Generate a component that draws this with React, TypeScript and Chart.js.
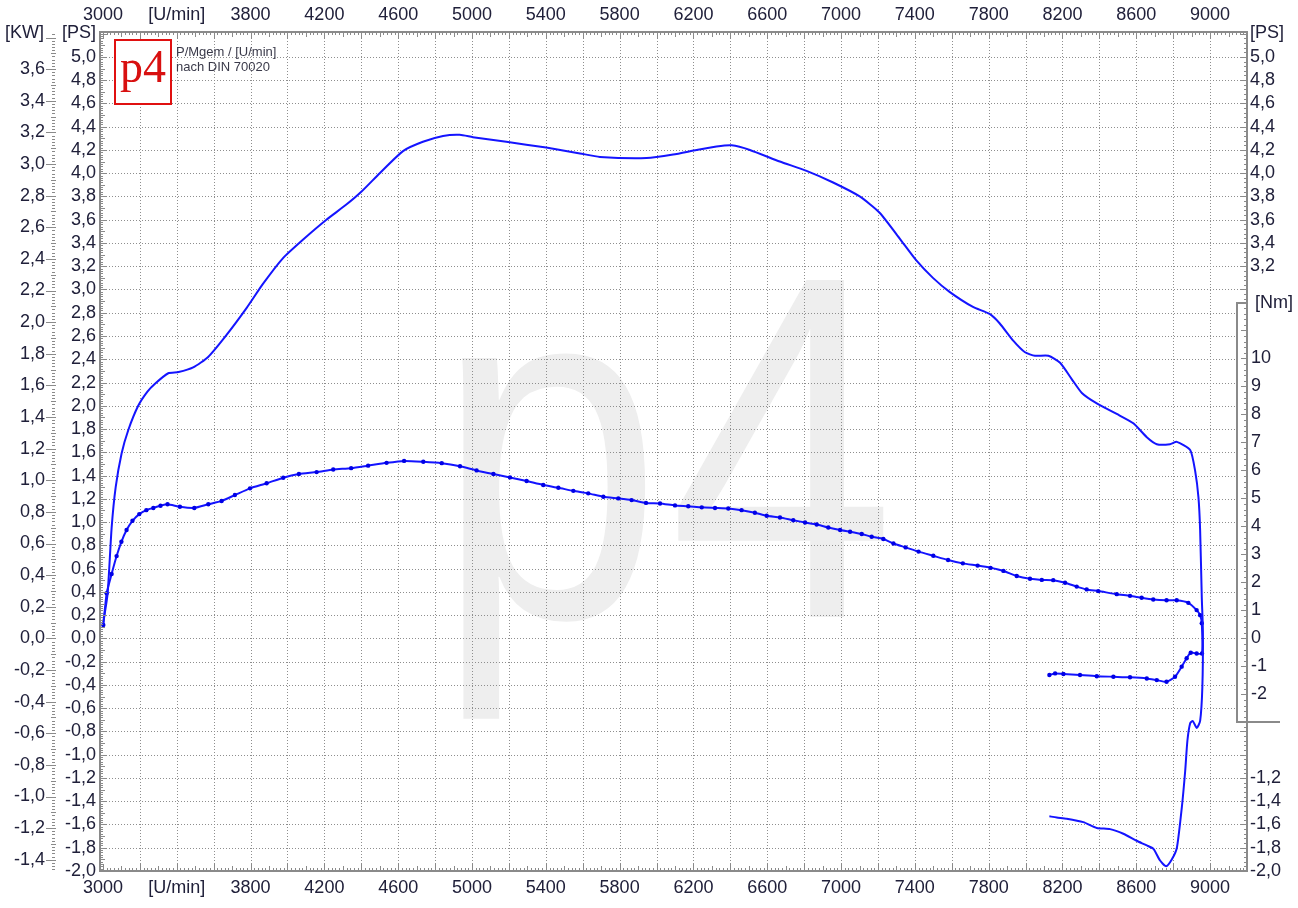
import React, { useEffect, useRef } from "react";
import { Chart, registerables } from "chart.js";

Chart.register(...registerables);

// ---------------- data ----------------
// Power curve, run-up followed by coast-down (loss power), in PS
const powerRpm = [
  3000, 3025, 3047, 3069, 3101, 3137, 3191, 3240, 3282, 3354, 3410, 3489, 3570, 3670, 3778, 3868, 3976, 4085,
  4211, 4319, 4400, 4500, 4626, 4734, 4843, 4933, 5005, 5186, 5402, 5585, 5693, 5946, 6090, 6217, 6325, 6407,
  6506, 6668, 6813, 6957, 7101, 7209, 7317, 7408, 7498, 7588, 7715, 7805, 7859, 7933, 7997, 8051, 8124, 8187,
  8250, 8305, 8386, 8494, 8584, 8657, 8711, 8783, 8820, 8892, 8919, 8937, 8946, 8955, 8961,
  8958, 8946, 8928, 8906, 8892, 8877, 8865, 8847, 8820, 8793, 8762, 8729, 8693, 8657, 8602, 8530, 8458, 8386,
  8313, 8223, 8169, 8129,
];
const powerPs = [
  0.12, 0.38, 0.95, 1.3, 1.59, 1.79, 2.0, 2.12, 2.19, 2.28, 2.29, 2.33, 2.42, 2.61, 2.84, 3.05, 3.27, 3.43,
  3.6, 3.73, 3.84, 4.0, 4.19, 4.27, 4.32, 4.33, 4.31, 4.27, 4.22, 4.17, 4.14, 4.13, 4.16, 4.2, 4.23, 4.24,
  4.2, 4.1, 4.02, 3.92, 3.8, 3.66, 3.44, 3.25, 3.1, 2.98, 2.85, 2.79, 2.71, 2.56, 2.46, 2.43, 2.43, 2.37,
  2.23, 2.11, 2.02, 1.93, 1.85, 1.73, 1.67, 1.67, 1.69, 1.62, 1.44, 1.21, 0.93, 0.35, 0.06,
  -0.42, -0.71, -0.77, -0.71, -0.73, -0.88, -1.14, -1.45, -1.8, -1.9, -1.96, -1.91, -1.81, -1.78, -1.74, -1.68,
  -1.64, -1.63, -1.58, -1.55, -1.54, -1.53,
];

// Torque curve, run-up followed by coast-down (loss torque), in Nm
const torqueRpm = [
  3002, 3020, 3047, 3074, 3100, 3128, 3160, 3197, 3235, 3273, 3312, 3350, 3417, 3495, 3571, 3643, 3715, 3797,
  3887, 3977, 4062, 4158, 4248, 4345, 4437, 4537, 4632, 4736, 4836, 4935, 5025, 5116, 5206, 5296, 5386, 5468,
  5549, 5630, 5712, 5793, 5865, 5943, 6019, 6100, 6172, 6245, 6317, 6389, 6461, 6533, 6597, 6669, 6741, 6805,
  6868, 6931, 6995, 7049, 7112, 7166, 7229, 7284, 7350, 7420, 7500, 7580, 7660, 7740, 7810, 7880, 7952, 8024,
  8088, 8150, 8214, 8277, 8331, 8394, 8494, 8566, 8629, 8692, 8764, 8819, 8882, 8927, 8946, 8955,
  8956, 8927, 8895, 8873, 8846, 8810, 8764, 8711, 8657, 8566, 8476, 8386, 8295, 8205, 8160, 8129,
];
const torqueNm = [
  0.48, 1.61, 2.3, 2.94, 3.45, 3.87, 4.2, 4.44, 4.58, 4.66, 4.74, 4.79, 4.7, 4.66, 4.79, 4.91, 5.12, 5.36,
  5.54, 5.74, 5.87, 5.94, 6.03, 6.08, 6.17, 6.27, 6.34, 6.31, 6.26, 6.15, 6.0, 5.87, 5.75, 5.62, 5.48, 5.38,
  5.27, 5.18, 5.06, 5.0, 4.94, 4.84, 4.82, 4.75, 4.72, 4.68, 4.66, 4.64, 4.58, 4.49, 4.38, 4.32, 4.22, 4.14,
  4.07, 3.96, 3.87, 3.81, 3.73, 3.63, 3.55, 3.39, 3.25, 3.1, 2.95, 2.8, 2.68, 2.6, 2.52, 2.41, 2.23, 2.13,
  2.09, 2.08, 1.99, 1.85, 1.75, 1.69, 1.58, 1.52, 1.45, 1.39, 1.36, 1.36, 1.27, 1.01, 0.83, 0.54,
  -0.54, -0.54, -0.51, -0.71, -1.01, -1.37, -1.55, -1.49, -1.43, -1.39, -1.37, -1.35, -1.31, -1.27, -1.25, -1.31,
];

// ---------------- axis ticks / labels ----------------
const rpmTickValues = [3000, 3400, 3800, 4200, 4600, 5000, 5400, 5800, 6200, 6600, 7000, 7400, 7800, 8200, 8600, 9000];
const rpmTickLabels = ["3000", "[U/min]", "3800", "4200", "4600", "5000", "5400", "5800", "6200", "6600", "7000", "7400", "7800", "8200", "8600", "9000"];
const psLeftLabels = [
  "-2,0", "-1,8", "-1,6", "-1,4", "-1,2", "-1,0", "-0,8", "-0,6", "-0,4", "-0,2", "0,0", "0,2", "0,4", "0,6", "0,8", "1,0", "1,2", "1,4",
  "1,6", "1,8", "2,0", "2,2", "2,4", "2,6", "2,8", "3,0", "3,2", "3,4", "3,6", "3,8", "4,0", "4,2", "4,4", "4,6", "4,8", "5,0",
];
const kwLabels = [
  "-1,4", "-1,2", "-1,0", "-0,8", "-0,6", "-0,4", "-0,2", "0,0", "0,2", "0,4", "0,6", "0,8", "1,0", "1,2", "1,4", "1,6", "1,8",
  "2,0", "2,2", "2,4", "2,6", "2,8", "3,0", "3,2", "3,4", "3,6",
];
const psRightUpperLabels = ["3,2", "3,4", "3,6", "3,8", "4,0", "4,2", "4,4", "4,6", "4,8", "5,0"];
const psRightLowerLabels = ["-2,0", "-1,8", "-1,6", "-1,4", "-1,2"];
const nmLabels = ["-2", "-1", "0", "1", "2", "3", "4", "5", "6", "7", "8", "9", "10"];
const noteLines = ["P/Mgem / [U/min]", "nach DIN 70020"];

// scale ranges
const X_MIN = 2984;
const X_MAX = 9200;
const PS_MIN = -2;
const PS_MAX = 5.214;
const KW_PER_PS = 0.7355;
const NM_PER_PS = 4.154;

const AXIS_GRAY = "#8a8a8a";
const TEXT = "#20203a";
const FONT = '18px "Liberation Sans", Arial, sans-serif';
const BLUE = "#1414ff";

const num = (s: string) => parseFloat(s.replace(",", "."));

function seg(ctx: CanvasRenderingContext2D, x1: number, y1: number, x2: number, y2: number) {
  ctx.beginPath();
  ctx.moveTo(x1, y1);
  ctx.lineTo(x2, y2);
  ctx.stroke();
}

const NM_BOX_TOP = 303;
const NM_BOX_BOTTOM = 722;
const NM_BOX_LEFT = 1237;
const NM_BOX_RIGHT = 1280;

const dynoPlugin = {
  id: "dyno",
  beforeDatasetsDraw(chart: any) {
    const { ctx, chartArea: ca, scales } = chart;
    const xs = scales.x;
    const ps = scales.ps;
    ctx.save();
    ctx.fillStyle = "#ffffff";
    ctx.fillRect(0, 0, chart.width, chart.height);

    // watermark
    ctx.save();
    ctx.beginPath();
    ctx.rect(ca.left, ca.top, ca.right - ca.left, ca.bottom - ca.top);
    ctx.clip();
    ctx.fillStyle = "#eeeeee";
    ctx.font = '490px "Liberation Sans", Arial, sans-serif';
    ctx.textAlign = "left";
    ctx.textBaseline = "alphabetic";
    ctx.save();
    ctx.translate(436, 617);
    ctx.scale(0.83, 1);
    ctx.fillText("p", 0, 0);
    ctx.restore();
    ctx.save();
    ctx.translate(669, 617);
    ctx.scale(0.83, 1);
    ctx.fillText("4", 0, 0);
    ctx.restore();

    // grid
    ctx.strokeStyle = "#8e8e8e";
    ctx.lineWidth = 1;
    ctx.setLineDash([1, 2]);
    for (let r = 3200; r < X_MAX; r += 200) {
      const px = Math.round(xs.getPixelForValue(r)) + 0.5;
      seg(ctx, px, ca.top, px, ca.bottom);
    }
    psLeftLabels.forEach((l) => {
      const v = num(l);
      if (v <= PS_MIN) return;
      const py = Math.round(ps.getPixelForValue(v)) + 0.5;
      seg(ctx, ca.left, py, ca.right, py);
    });
    ctx.restore();
    ctx.restore();
  },
  afterDatasetsDraw(chart: any) {
    const { ctx, chartArea: ca, scales } = chart;
    const xs = scales.x;
    const ps = scales.ps;
    const nm = scales.nm;
    const kw = scales.kw;
    ctx.save();

    // Nm box background
    ctx.fillStyle = "#ffffff";
    ctx.fillRect(NM_BOX_LEFT + 1, NM_BOX_TOP + 1, NM_BOX_RIGHT - NM_BOX_LEFT + 14, NM_BOX_BOTTOM - NM_BOX_TOP - 2);

    // frame
    ctx.strokeStyle = AXIS_GRAY;
    ctx.lineWidth = 2;
    ctx.strokeRect(ca.left, ca.top, ca.right - ca.left, ca.bottom - ca.top);

    // rpm ticks (top and bottom)
    ctx.lineWidth = 1;
    for (let i = Math.ceil(X_MIN / 20); i * 20 <= X_MAX; i++) {
      const r = i * 20;
      const len = r % 200 === 0 ? 7 : r % 100 === 0 ? 5 : 3;
      const px = Math.round(xs.getPixelForValue(r)) + 0.5;
      seg(ctx, px, ca.bottom, px, ca.bottom - len);
      seg(ctx, px, ca.top, px, ca.top + len);
    }
    // left PS ticks
    for (let i = Math.ceil(PS_MIN / 0.02); i * 0.02 <= PS_MAX; i++) {
      const len = i % 10 === 0 ? 7 : i % 5 === 0 ? 5 : 3;
      const py = Math.round(ps.getPixelForValue(i * 0.02)) + 0.5;
      seg(ctx, ca.left, py, ca.left + len, py);
    }
    // right PS ticks (outside the Nm box)
    for (let i = Math.ceil(PS_MIN / 0.04); i * 0.04 <= PS_MAX; i++) {
      const py = Math.round(ps.getPixelForValue(i * 0.04)) + 0.5;
      if (py > NM_BOX_TOP && py < NM_BOX_BOTTOM) continue;
      const len = i % 5 === 0 ? 6 : 3;
      seg(ctx, ca.right, py, ca.right - len, py);
    }
    // Nm ticks
    for (let i = -15; i <= 60; i++) {
      const py = Math.round(nm.getPixelForValue(i * 0.2)) + 0.5;
      if (py < NM_BOX_TOP || py > NM_BOX_BOTTOM) continue;
      const len = i % 5 === 0 ? 6 : 3;
      seg(ctx, ca.right, py, ca.right - len, py);
    }
    // KW ruler
    const kwMin = PS_MIN * KW_PER_PS;
    const kwMax = PS_MAX * KW_PER_PS;
    for (let i = Math.ceil(kwMin / 0.02); i * 0.02 <= kwMax; i++) {
      const py = Math.round(kw.getPixelForValue(i * 0.02)) + 0.5;
      if (i % 10 === 0) seg(ctx, 46, py, 56, py);
      else if (i % 5 === 0) seg(ctx, 51, py, 56, py);
      else seg(ctx, 52, py, 55, py);
    }

    // Nm box border
    ctx.lineWidth = 2;
    ctx.beginPath();
    ctx.moveTo(ca.right, NM_BOX_TOP);
    ctx.lineTo(NM_BOX_LEFT, NM_BOX_TOP);
    ctx.lineTo(NM_BOX_LEFT, NM_BOX_BOTTOM);
    ctx.lineTo(NM_BOX_RIGHT, NM_BOX_BOTTOM);
    ctx.stroke();

    // labels
    ctx.fillStyle = TEXT;
    ctx.font = FONT;
    ctx.textBaseline = "middle";
    ctx.textAlign = "center";
    rpmTickValues.forEach((v, i) => {
      const px = xs.getPixelForValue(v);
      ctx.fillText(rpmTickLabels[i], px, 15);
      ctx.fillText(rpmTickLabels[i], px, 888);
    });
    ctx.textAlign = "right";
    psLeftLabels.forEach((l) => ctx.fillText(l, 96, ps.getPixelForValue(num(l))));
    kwLabels.forEach((l) => ctx.fillText(l, 45, kw.getPixelForValue(num(l))));
    ctx.fillText("[PS]", 96, 33);
    ctx.textAlign = "left";
    ctx.fillText("[KW]", 5, 33);
    ctx.fillText("[PS]", 1250, 33);
    psRightUpperLabels.forEach((l) => ctx.fillText(l, 1250, ps.getPixelForValue(num(l))));
    psRightLowerLabels.forEach((l) => ctx.fillText(l, 1250, ps.getPixelForValue(num(l))));
    nmLabels.forEach((l) => ctx.fillText(l, 1251, nm.getPixelForValue(num(l))));
    ctx.fillText("[Nm]", 1255, 303);

    // logo
    ctx.fillStyle = "#ffffff";
    ctx.fillRect(115, 40, 56, 64);
    ctx.strokeStyle = "#e01010";
    ctx.lineWidth = 2;
    ctx.strokeRect(115, 40, 56, 64);
    ctx.fillStyle = "#d81010";
    ctx.font = '46px "Liberation Serif", "DejaVu Serif", serif';
    ctx.textAlign = "center";
    ctx.textBaseline = "alphabetic";
    ctx.fillText("p4", 143, 82);

    // note text
    ctx.fillStyle = "#3a3a4a";
    ctx.font = '13px "Liberation Sans", Arial, sans-serif';
    ctx.textAlign = "left";
    ctx.textBaseline = "middle";
    ctx.fillText(noteLines[0], 176, 52);
    ctx.fillText(noteLines[1], 176, 67);
    ctx.restore();
  },
};

export default function App() {
  const canvasRef = useRef<HTMLCanvasElement | null>(null);

  useEffect(() => {
    document.body.style.margin = "0";
    document.body.style.overflow = "hidden";
    const canvas = canvasRef.current;
    if (!canvas) return;
    const chart = new Chart(canvas, {
      type: "line",
      data: {
        datasets: [
          {
            label: "P",
            data: powerRpm.map((x, i) => ({ x, y: powerPs[i] })),
            yAxisID: "ps",
            borderColor: BLUE,
            borderWidth: 2,
            pointRadius: 0,
            tension: 0.2,
            fill: false,
          },
          {
            label: "M",
            data: torqueRpm.map((x, i) => ({ x, y: torqueNm[i] })),
            yAxisID: "nm",
            borderColor: BLUE,
            borderWidth: 2,
            pointRadius: 2.2,
            pointBorderWidth: 0,
            pointBackgroundColor: "#0000e6",
            tension: 0.2,
            fill: false,
          },
        ],
      },
      options: {
        responsive: false,
        animation: false,
        devicePixelRatio: 1,
        layout: { padding: { left: 100, top: 32, right: 51, bottom: 37 } },
        plugins: { legend: { display: false }, tooltip: { enabled: false } },
        scales: {
          x: { type: "linear", min: X_MIN, max: X_MAX, display: false },
          ps: { type: "linear", position: "left", min: PS_MIN, max: PS_MAX, display: false },
          kw: { type: "linear", position: "left", min: PS_MIN * KW_PER_PS, max: PS_MAX * KW_PER_PS, display: false },
          nm: { type: "linear", position: "right", min: PS_MIN * NM_PER_PS, max: PS_MAX * NM_PER_PS, display: false },
        },
      },
      plugins: [dynoPlugin],
    });
    return () => chart.destroy();
  }, []);

  return (
    <div style={{ width: 1298, height: 908 }}>
      <canvas ref={canvasRef} width={1298} height={908} style={{ display: "block" }} />
    </div>
  );
}
